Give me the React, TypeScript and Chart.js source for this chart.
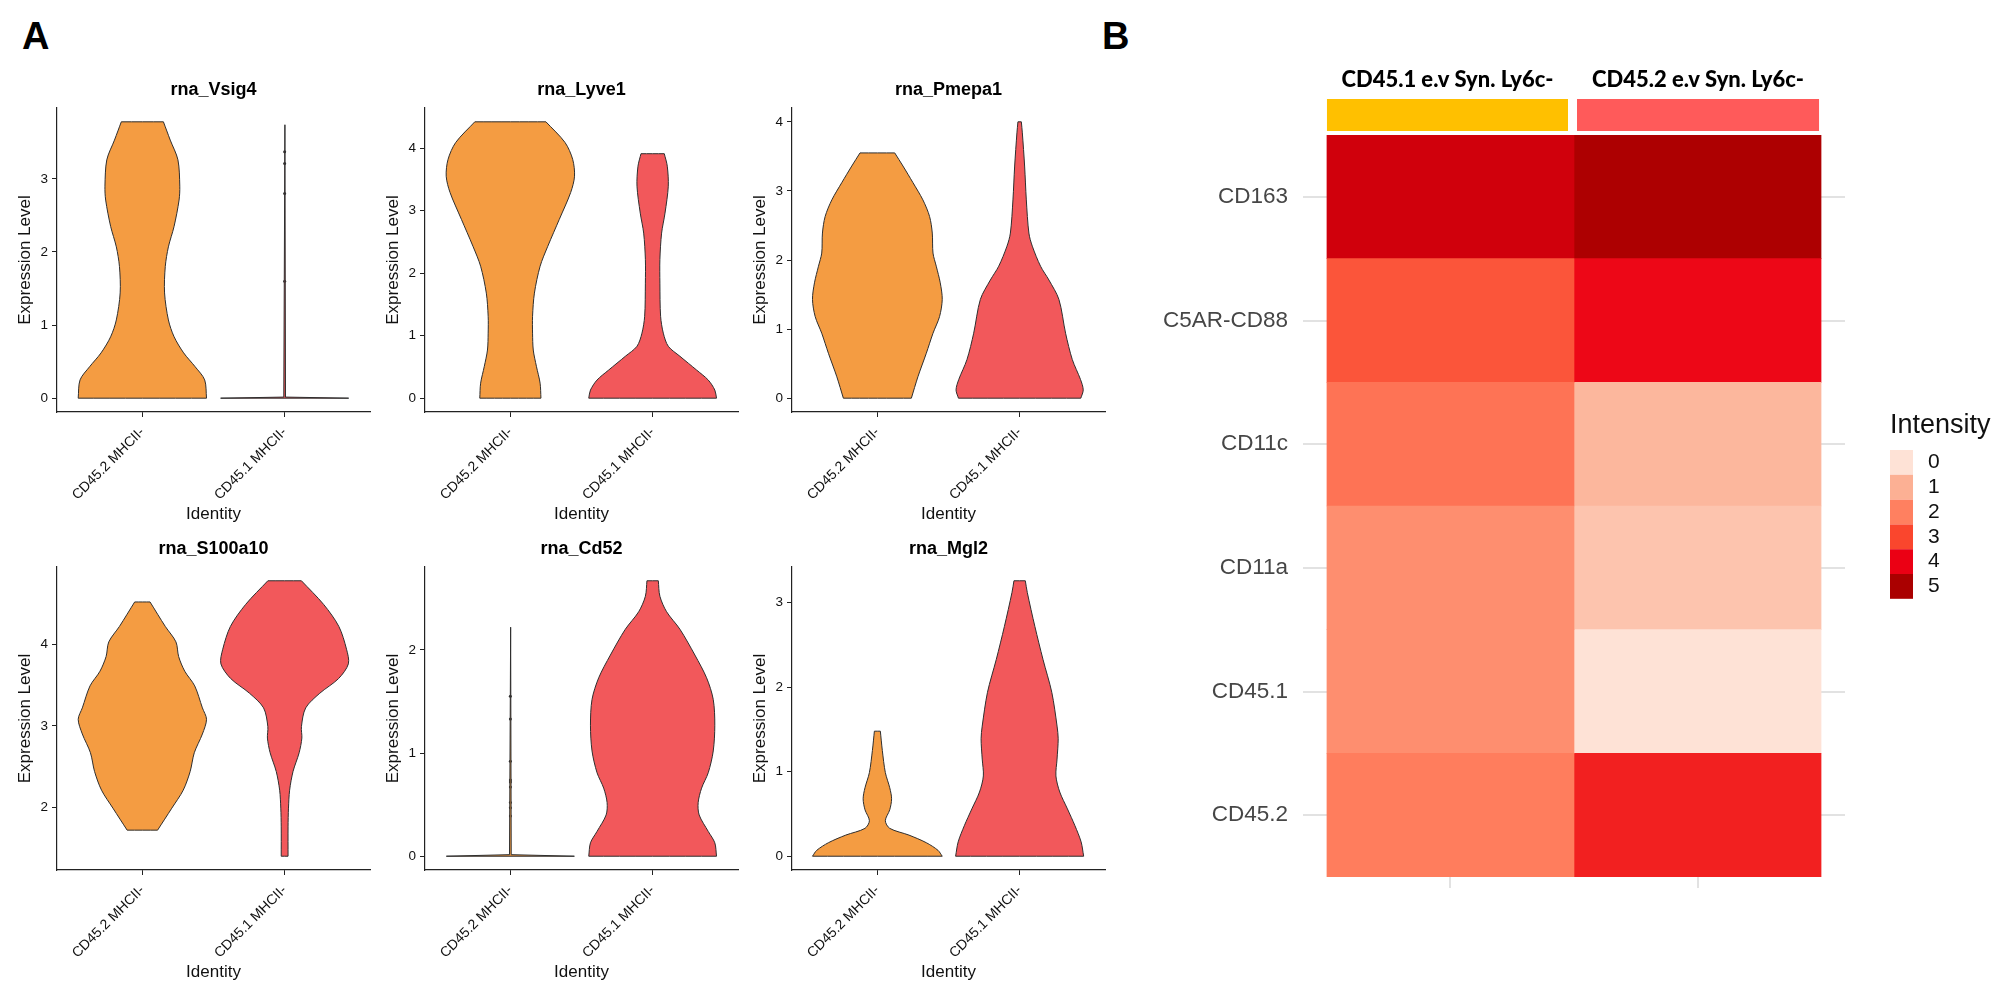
import React, { useEffect, useRef } from "react";
import { Chart, registerables } from "chart.js";

Chart.register(...registerables);

const FONT = "'Liberation Sans', Arial, Helvetica, sans-serif";
Chart.defaults.font.family = FONT;
Chart.defaults.color = "#111";

// ---------------- data ----------------
const groups = ["CD45.2 MHCII-", "CD45.1 MHCII-"];
const genes = ["rna_Vsig4", "rna_Lyve1", "rna_Pmepa1", "rna_S100a10", "rna_Cd52", "rna_Mgl2"];

// violin outlines: [expression level, half width (category units)], bottom -> top
const vsig4_cd452 = [[0, 0.451], [0.25, 0.438], [0.43, 0.371], [0.62, 0.29], [0.84, 0.223], [1.07, 0.183], [1.44, 0.156], [1.8, 0.161], [2.07, 0.183], [2.35, 0.223], [2.71, 0.258], [2.9, 0.263], [3.26, 0.25], [3.53, 0.196], [3.78, 0.148]];
const vsig4_cd451 = [[0, 0.45], [0.015, 0.006], [3.74, 0.002]];
const vsig4_cd451_dots = [3.37, 3.21, 2.8, 1.6];

const lyve1_cd452 = [[0, 0.215], [0.24, 0.209], [0.51, 0.183], [0.77, 0.161], [1.04, 0.156], [1.31, 0.156], [1.68, 0.169], [2.11, 0.209], [2.43, 0.263], [2.86, 0.344], [3.29, 0.424], [3.55, 0.451], [3.82, 0.438], [4.09, 0.384], [4.42, 0.25]];
const lyve1_cd451 = [[0, 0.449], [0.13, 0.437], [0.29, 0.391], [0.45, 0.309], [0.67, 0.192], [0.83, 0.11], [1.04, 0.075], [1.31, 0.056], [1.84, 0.051], [2.22, 0.051], [2.64, 0.063], [2.96, 0.087], [3.39, 0.11], [3.71, 0.103], [3.91, 0.082]];

const pmepa1_cd452 = [[0, 0.239], [0.31, 0.285], [0.65, 0.344], [0.94, 0.391], [1.18, 0.437], [1.43, 0.456], [1.67, 0.442], [1.91, 0.414], [2.1, 0.391], [2.39, 0.386], [2.63, 0.367], [2.87, 0.32], [3.12, 0.25], [3.36, 0.18], [3.55, 0.122]];
const pmepa1_cd451 = [[0, 0.43], [0.12, 0.447], [0.27, 0.428], [0.56, 0.37], [0.94, 0.323], [1.43, 0.276], [1.71, 0.206], [1.91, 0.147], [2.2, 0.089], [2.39, 0.065], [2.87, 0.047], [3.36, 0.035], [3.84, 0.019], [4.0, 0.012]];

const s100a10_cd452 = [[1.72, 0.107], [1.99, 0.207], [2.21, 0.287], [2.44, 0.336], [2.67, 0.365], [2.9, 0.422], [3.08, 0.451], [3.22, 0.422], [3.49, 0.368], [3.67, 0.298], [3.85, 0.255], [4.03, 0.236], [4.22, 0.161], [4.52, 0.054]];
const s100a10_cd451 = [[1.4, 0.024], [1.76, 0.024], [1.99, 0.027], [2.21, 0.035], [2.44, 0.059], [2.67, 0.102], [2.85, 0.121], [2.99, 0.118], [3.22, 0.148], [3.4, 0.247], [3.58, 0.379], [3.76, 0.448], [3.94, 0.435], [4.22, 0.381], [4.49, 0.274], [4.78, 0.118]];

const cd52_cd452 = [[0, 0.45], [0.015, 0.006], [2.22, 0.002]];
const cd52_cd452_dots = [1.55, 1.33, 0.92, 0.74, 0.72, 0.67, 0.52, 0.47, 0.39];
const cd52_cd451 = [[0, 0.449], [0.13, 0.437], [0.24, 0.391], [0.4, 0.327], [0.52, 0.32], [0.66, 0.344], [0.81, 0.391], [1.02, 0.426], [1.27, 0.437], [1.52, 0.426], [1.73, 0.379], [1.95, 0.297], [2.2, 0.192], [2.37, 0.098], [2.52, 0.051], [2.67, 0.04]];

const mgl2_cd452 = [[0, 0.456], [0.07, 0.426], [0.16, 0.344], [0.25, 0.222], [0.33, 0.087], [0.42, 0.056], [0.55, 0.087], [0.68, 0.1], [0.81, 0.087], [0.99, 0.056], [1.25, 0.035], [1.48, 0.021]];
const mgl2_cd451 = [[0, 0.45], [0.17, 0.432], [0.36, 0.389], [0.56, 0.336], [0.76, 0.282], [0.95, 0.255], [1.15, 0.263], [1.39, 0.271], [1.54, 0.263], [1.94, 0.226], [2.33, 0.164], [2.72, 0.107], [3.12, 0.054], [3.26, 0.04]];

// heatmap
const heatRows = ["CD163", "C5AR-CD88", "CD11c", "CD11a", "CD45.1", "CD45.2"];
const heatCols = ["CD45.1 e.v Syn. Ly6c-", "CD45.2 e.v Syn. Ly6c-"];
const intensityCol1 = [4.42, 2.74, 2.22, 1.71, 1.71, 2.05];
const intensityCol2 = [4.95, 3.9, 0.86, 0.6, 0.0, 3.54];
const legendLevels = [0, 1, 2, 3, 4, 5];

// ---------------- styles ----------------
const groupFill = ["#F49C42", "#F2585B"];
const OUTLINE = "#2e2e2e";
const intensityStops = [
  [254, 226, 214],
  [252, 176, 148],
  [255, 128, 96],
  [250, 70, 45],
  [235, 0, 20],
  [170, 0, 0],
];
const heatColColors = ["#FFC000", "#FF5A5A"];
const gridGrey = "#E2E2E2";

function intensityColor(v: number) {
  const i = Math.max(0, Math.min(intensityStops.length - 2, Math.floor(v)));
  const t = Math.max(0, Math.min(1, v - i));
  const a = intensityStops[i], b = intensityStops[i + 1];
  const c = a.map((ai, k) => Math.round(ai + (b[k] - ai) * t));
  return `rgb(${c[0]},${c[1]},${c[2]})`;
}

function violinOutline(profile: number[][], center: number) {
  const n = profile.length;
  const R = profile.map(([y, w]) => ({ x: center + w, y }));
  const L = profile.map(([y, w]) => ({ x: center - w, y }));
  const pts: any[] = [L[0], R[0], R[0]];
  for (let k = 1; k < n - 1; k++) pts.push(R[k]);
  pts.push(R[n - 1], R[n - 1], L[n - 1], L[n - 1]);
  for (let k = n - 2; k >= 1; k--) pts.push(L[k]);
  pts.push(L[0]);
  return pts;
}

const violinPanels = [
  { gene: genes[0], violins: [vsig4_cd452, vsig4_cd451], dots: [[], vsig4_cd451_dots] },
  { gene: genes[1], violins: [lyve1_cd452, lyve1_cd451], dots: [[], []] },
  { gene: genes[2], violins: [pmepa1_cd452, pmepa1_cd451], dots: [[], []] },
  { gene: genes[3], violins: [s100a10_cd452, s100a10_cd451], dots: [[], []] },
  { gene: genes[4], violins: [cd52_cd452, cd52_cd451], dots: [cd52_cd452_dots, []] },
  { gene: genes[5], violins: [mgl2_cd452, mgl2_cd451], dots: [[], []] },
];

// layout (page pixels)
const colLefts = [0, 368, 735];
const rowTops = [63, 522];
const rowHeights = [474, 473];
const PANEL_W = 397;

const panelTitle = {
  id: "panelTitle",
  afterDraw(chart: any, _a: any, opts: any) {
    if (!opts || !opts.text) return;
    const { ctx, chartArea } = chart;
    ctx.save();
    ctx.font = `bold 18px ${FONT}`;
    ctx.fillStyle = "#000";
    ctx.textAlign = "center";
    ctx.textBaseline = "middle";
    ctx.fillText(opts.text, (chartArea.left + chartArea.right) / 2, chartArea.top - 18);
    ctx.restore();
  },
};

function violinConfig(panel: any) {
  const levels = panel.violins.flat().map((p: number[]) => p[0]).concat(panel.dots.flat());
  const lo = Math.min(...levels);
  const hi = Math.max(...levels);
  const pad = (hi - lo) * 0.05;
  const datasets: any[] = [];
  panel.violins.forEach((profile: number[][], i: number) => {
    const thin = profile.length <= 3;
    datasets.push({
      data: violinOutline(profile, i + 1),
      showLine: true,
      fill: "shape",
      tension: thin ? 0 : 0.3,
      backgroundColor: groupFill[i],
      borderColor: OUTLINE,
      borderWidth: 1,
      pointRadius: 0,
      pointHoverRadius: 0,
    });
  });
  panel.dots.forEach((vals: number[], i: number) => {
    if (!vals.length) return;
    datasets.push({
      data: vals.map((y) => ({ x: i + 1, y })),
      showLine: false,
      pointRadius: 1.5,
      pointBackgroundColor: OUTLINE,
      pointBorderWidth: 0,
    });
  });
  const axisCommon = {
    grid: { drawOnChartArea: false, drawTicks: true, tickLength: 5, color: "#222", lineWidth: 1 },
    border: { display: true, color: "#222", width: 1.2 },
  };
  return {
    type: "scatter",
    data: { datasets },
    plugins: [panelTitle],
    options: {
      animation: false,
      responsive: true,
      maintainAspectRatio: false,
      events: [],
      layout: { padding: { top: 45, right: 27, left: 0, bottom: 0 }, autoPadding: false },
      plugins: {
        legend: { display: false },
        tooltip: { enabled: false },
        panelTitle: { text: panel.gene },
      },
      scales: {
        x: {
          type: "linear",
          min: 0.4,
          max: 2.6,
          afterBuildTicks: (s: any) => {
            s.ticks = groups.map((_, i) => ({ value: i + 1 }));
          },
          afterFit: (s: any) => {
            s.height = 125;
          },
          ticks: {
            callback: (v: number) => groups[v - 1],
            minRotation: 45,
            maxRotation: 45,
            autoSkip: false,
            padding: 7,
            color: "#111",
            font: { size: 14 },
          },
          title: {
            display: true,
            text: "Identity",
            color: "#111",
            font: { size: 17 },
            padding: { top: 0, bottom: 12.8 },
          },
          ...axisCommon,
        },
        y: {
          type: "linear",
          min: lo - pad,
          max: hi + pad,
          afterBuildTicks: (s: any) => {
            const t: any[] = [];
            for (let v = Math.ceil(s.min); v <= Math.floor(s.max); v++) t.push({ value: v });
            s.ticks = t;
          },
          afterFit: (s: any) => {
            s.width = 57;
          },
          ticks: { padding: 4, color: "#111", font: { size: 13.5 } },
          title: {
            display: true,
            text: "Expression Level",
            color: "#111",
            font: { size: 17 },
            padding: { top: 14.8, bottom: 0 },
          },
          ...axisCommon,
        },
      },
    },
  };
}

const heatDecor = {
  id: "heatDecor",
  afterDraw(chart: any) {
    const { ctx, chartArea, scales } = chart;
    const x = scales.x;
    ctx.save();
    heatCols.forEach((name, j) => {
      const x0 = x.getPixelForValue(j);
      const x1 = x.getPixelForValue(j + 1);
      const l = x0 + (j === 0 ? 0 : 3);
      const r = x1 - (j === 0 ? 6 : 2);
      ctx.fillStyle = heatColColors[j];
      ctx.fillRect(l, chartArea.top - 36, r - l, 32);
      ctx.font = `900 23px Lato, ${FONT}`;
      ctx.fillStyle = "#000";
      ctx.textAlign = "center";
      ctx.textBaseline = "middle";
      ctx.fillText(name, (l + r) / 2, chartArea.top - 55, 212);
    });
    const lx = chartArea.right + 45;
    ctx.font = `27px ${FONT}`;
    ctx.textAlign = "left";
    ctx.textBaseline = "alphabetic";
    ctx.fillStyle = "#111";
    ctx.fillText("Intensity", lx, chartArea.top + 298);
    legendLevels.forEach((v, k) => {
      const top = chartArea.top + 315 + k * 24.8;
      ctx.fillStyle = intensityColor(v);
      ctx.fillRect(lx, top, 23, 24.8);
      ctx.fillStyle = "#111";
      ctx.font = `21px ${FONT}`;
      ctx.textBaseline = "middle";
      ctx.fillText(String(v), lx + 38, top + 12.4);
    });
    ctx.restore();
  },
};

function heatmapConfig() {
  const intensities = [intensityCol1, intensityCol2];
  return {
    type: "bar",
    data: {
      labels: heatRows,
      datasets: heatCols.map((col, j) => ({
        label: col,
        data: heatRows.map(() => [j, j + 1]),
        backgroundColor: intensities[j].map(intensityColor),
        borderWidth: 0,
        barPercentage: 1,
        categoryPercentage: 1,
        grouped: false,
      })),
    },
    plugins: [heatDecor],
    options: {
      indexAxis: "y",
      animation: false,
      responsive: true,
      maintainAspectRatio: false,
      events: [],
      layout: { padding: { top: 95, right: 155, left: 0, bottom: 0 }, autoPadding: false },
      plugins: { legend: { display: false }, tooltip: { enabled: false } },
      scales: {
        x: {
          type: "linear",
          min: -0.097,
          max: 2.097,
          afterBuildTicks: (s: any) => {
            s.ticks = heatCols.map((_, j) => ({ value: j + 0.5 }));
          },
          afterFit: (s: any) => {
            s.height = 63;
          },
          ticks: { display: false },
          grid: { color: gridGrey, lineWidth: 2, drawTicks: true, tickLength: 11 },
          border: { display: false },
        },
        y: {
          type: "category",
          offset: true,
          afterFit: (s: any) => {
            s.width = 153;
          },
          grid: { offset: false, color: gridGrey, lineWidth: 2, drawTicks: false },
          border: { display: false },
          ticks: { padding: 15, color: "#464646", font: { size: 22.5 } },
        },
      },
    },
  };
}

function ChartBox({ make, left, top, width, height }: any) {
  const ref = useRef<HTMLCanvasElement>(null);
  useEffect(() => {
    const chart = new Chart(ref.current as HTMLCanvasElement, make() as any);
    return () => chart.destroy();
  }, []);
  return (
    <div style={{ position: "absolute", left, top, width, height }}>
      <canvas ref={ref} />
    </div>
  );
}

export default function App() {
  return (
    <div
      style={{
        position: "absolute",
        left: 0,
        top: 0,
        width: 2000,
        height: 998,
        background: "#fff",
        overflow: "hidden",
        fontFamily: FONT,
      }}
    >
      <div style={{ position: "absolute", left: 22, top: 17, font: `bold 38px/38px ${FONT}`, color: "#000" }}>A</div>
      <div style={{ position: "absolute", left: 1102, top: 17, font: `bold 38px/38px ${FONT}`, color: "#000" }}>B</div>
      {violinPanels.map((p, k) => (
        <ChartBox
          key={k}
          make={() => violinConfig(p)}
          left={colLefts[k % 3]}
          top={rowTops[Math.floor(k / 3)]}
          width={PANEL_W}
          height={rowHeights[Math.floor(k / 3)]}
        />
      ))}
      <ChartBox make={heatmapConfig} left={1150} top={40} width={850} height={900} />
    </div>
  );
}
